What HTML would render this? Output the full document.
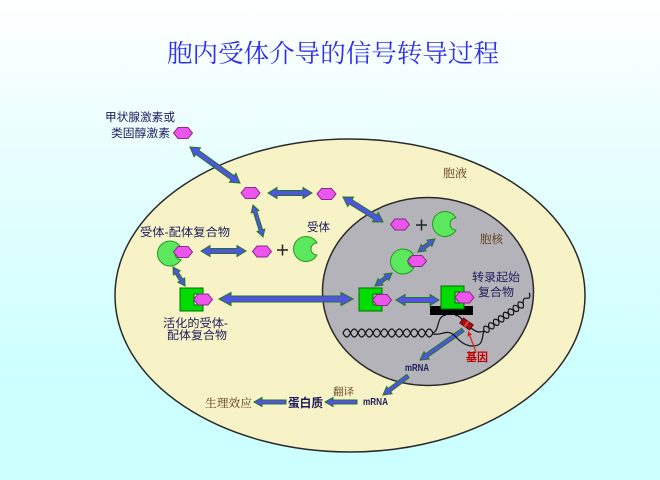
<!DOCTYPE html>
<html><head><meta charset="utf-8"><style>
html,body{margin:0;padding:0;}
body{width:660px;height:480px;overflow:hidden;background:linear-gradient(to bottom,#ffffff 0%,#e6fefe 35%,#ccffff 80%,#ccffff 100%);}
svg{display:block;}
.nv{font-family:"Liberation Sans","Noto Sans CJK SC",sans-serif;fill:#1c1c5c;font-size:11.5px;}
.br{font-family:"Liberation Serif","Noto Serif CJK SC",serif;fill:#5a3410;font-size:11.5px;}
.ar{fill:#5252e4;stroke:#1f7a1f;stroke-width:1;}
.hx{fill:#ee55ee;stroke:#8a2a8a;stroke-width:1;}
.pm{fill:#5ce85c;stroke:#229a22;stroke-width:1;}
.sq{fill:#00dd00;stroke:#006f00;stroke-width:1;}
.dna{fill:none;stroke:#111;stroke-width:1.2;}
</style></head><body>
<svg width="660" height="480" viewBox="0 0 660 480" xmlns="http://www.w3.org/2000/svg">
<!-- title -->
<text x="167" y="62" textLength="332" lengthAdjust="spacingAndGlyphs" style="font-family:'Liberation Serif','Noto Serif CJK SC',serif;font-size:25px;fill:#2f2ff0;">胞内受体介导的信号转导过程</text>

<!-- cell -->
<ellipse cx="350" cy="295.5" rx="235" ry="156.5" fill="#f7f3c7" stroke="#2a2a2a" stroke-width="1.5"/>
<ellipse cx="428" cy="291.5" rx="105.5" ry="94" fill="#b3b3b9" stroke="#2a2a2a" stroke-width="1.5"/>

<!-- labels -->
<text class="nv" x="105" y="121" textLength="70" lengthAdjust="spacingAndGlyphs">甲状腺激素或</text>
<text class="nv" x="111" y="137" textLength="59" lengthAdjust="spacingAndGlyphs">类固醇激素</text>
<text class="nv" x="140" y="236" textLength="90" lengthAdjust="spacingAndGlyphs">受体-配体复合物</text>
<text class="nv" x="307" y="231" textLength="23" lengthAdjust="spacingAndGlyphs">受体</text>
<text class="nv" x="163" y="327" textLength="65" lengthAdjust="spacingAndGlyphs">活化的受体-</text>
<text class="nv" x="167" y="339" textLength="60" lengthAdjust="spacingAndGlyphs">配体复合物</text>
<text class="br" x="443" y="177" textLength="24" lengthAdjust="spacingAndGlyphs">胞液</text>
<text class="br" x="480" y="243" textLength="23" lengthAdjust="spacingAndGlyphs">胞核</text>
<text class="nv" x="472" y="281" textLength="48" lengthAdjust="spacingAndGlyphs">转录起始</text>
<text class="nv" x="478" y="296" textLength="36" lengthAdjust="spacingAndGlyphs">复合物</text>
<text x="466" y="361" textLength="22" lengthAdjust="spacingAndGlyphs" style="font-family:'Liberation Sans','Noto Sans CJK SC',sans-serif;font-size:11.5px;fill:#c00000;font-weight:bold;">基因</text>
<text x="405" y="371" textLength="24" lengthAdjust="spacingAndGlyphs" style="font-family:'Liberation Sans',sans-serif;font-size:10px;fill:#1c1c5c;font-weight:bold;">mRNA</text>
<text x="363" y="405" textLength="25" lengthAdjust="spacingAndGlyphs" style="font-family:'Liberation Sans',sans-serif;font-size:10px;fill:#1c1c5c;font-weight:bold;">mRNA</text>
<text class="br" x="333" y="395" textLength="21" lengthAdjust="spacingAndGlyphs" style="font-size:10.5px;">翻译</text>
<text class="nv" x="288" y="407" textLength="35" lengthAdjust="spacingAndGlyphs" style="font-weight:bold;font-size:12px;">蛋白质</text>
<text class="br" x="205" y="407" textLength="47" lengthAdjust="spacingAndGlyphs">生理效应</text>

<!-- plus signs -->
<path d="M277,250 h11 M282.5,244.5 v11 M416,225 h11 M421.5,219.5 v11" stroke="#222" stroke-width="1.5"/>

<!-- arrows -->
<polygon class="ar" transform="translate(190,147) rotate(35.8)" points="0,0 9,-5.5 9,-2.5 52.6,-2.5 52.6,-5.5 61.6,0 52.6,5.5 52.6,2.5 9,2.5 9,5.5"/>
<polygon class="ar" transform="translate(268,193)" points="0,0 9,-5.5 9,-2.5 35,-2.5 35,-5.5 44,0 35,5.5 35,2.5 9,2.5 9,5.5"/>
<polygon class="ar" transform="translate(343,197) rotate(32)" points="0,0 9,-5.5 9,-2.5 38.2,-2.5 38.2,-5.5 47.2,0 38.2,5.5 38.2,2.5 9,2.5 9,5.5"/>
<polygon class="ar" transform="translate(253,205) rotate(72.6)" points="0,0 7,-4 7,-1.8 26.5,-1.8 26.5,-4 33.5,0 26.5,4 26.5,1.8 7,1.8 7,4"/>
<polygon class="ar" transform="translate(201,251)" points="0,0 9,-5.5 9,-2.5 36,-2.5 36,-5.5 45,0 36,5.5 36,2.5 9,2.5 9,5.5"/>
<polygon class="ar" transform="translate(173,267) rotate(57.7)" points="0,0 7,-4 7,-1.8 15.5,-1.8 15.5,-4 22.5,0 15.5,4 15.5,1.8 7,1.8 7,4"/>
<polygon class="ar" transform="translate(219,299)" points="0,0 12,-6.5 12,-3 122,-3 122,-6.5 134,0 122,6.5 122,3 12,3 12,6.5"/>
<polygon class="ar" transform="translate(418,252) rotate(-37.4)" points="0,0 7,-4 7,-1.8 14.4,-1.8 14.4,-4 21.4,0 14.4,4 14.4,1.8 7,1.8 7,4"/>
<polygon class="ar" transform="translate(375,286) rotate(-37.4)" points="0,0 7,-4 7,-1.8 14.4,-1.8 14.4,-4 21.4,0 14.4,4 14.4,1.8 7,1.8 7,4"/>
<polygon class="ar" transform="translate(396,300)" points="0,0 9,-5.5 9,-2.5 34,-2.5 34,-5.5 43,0 34,5.5 34,2.5 9,2.5 9,5.5"/>
<polygon class="ar" transform="translate(463,330) rotate(145.1)" points="0,-2 44.4,-2 44.4,-4.5 52.4,0 44.4,4.5 44.4,2 0,2"/>
<polygon class="ar" transform="translate(408,376) rotate(142.8)" points="0,-2 23.4,-2 23.4,-4.5 31.4,0 23.4,4.5 23.4,2 0,2"/>
<polygon class="ar" transform="translate(357,402) rotate(180)" points="0,-2 24,-2 24,-4.5 32,0 24,4.5 24,2 0,2"/>
<polygon class="ar" transform="translate(286,402) rotate(180)" points="0,-2 24,-2 24,-4.5 32,0 24,4.5 24,2 0,2"/>

<!-- hexagons (free) -->
<polygon class="hx" transform="translate(183,133)" points="-9.5,0 -5,-5.5 5,-5.5 9.5,0 5,5.5 -5,5.5"/>
<polygon class="hx" transform="translate(250.5,193)" points="-9.5,0 -5,-5.5 5,-5.5 9.5,0 5,5.5 -5,5.5"/>
<polygon class="hx" transform="translate(326.5,194)" points="-9.5,0 -5,-5.5 5,-5.5 9.5,0 5,5.5 -5,5.5"/>
<polygon class="hx" transform="translate(262,251.5)" points="-9.5,0 -5,-5.5 5,-5.5 9.5,0 5,5.5 -5,5.5"/>
<polygon class="hx" transform="translate(400,224.5)" points="-9.5,0 -5,-5.5 5,-5.5 9.5,0 5,5.5 -5,5.5"/>

<!-- receptors -->
<path class="pm" transform="translate(306,249)" d="M10.97,-6 A12.5,12.5 0 1 0 10.97,6 A6,6 0 1 1 10.97,-6 Z"/>
<path class="pm" transform="translate(445,224)" d="M10.97,-6 A12.5,12.5 0 1 0 10.97,6 A6,6 0 1 1 10.97,-6 Z"/>
<!-- complexes -->
<path class="pm" transform="translate(170,253.5)" d="M10.97,-6 A12.5,12.5 0 1 0 10.97,6 A6,6 0 1 1 10.97,-6 Z"/>
<polygon class="hx" transform="translate(183,252)" points="-9.5,0 -5,-5.5 5,-5.5 9.5,0 5,5.5 -5,5.5"/>
<path class="pm" transform="translate(403,261.5)" d="M10.97,-6 A12.5,12.5 0 1 0 10.97,6 A6,6 0 1 1 10.97,-6 Z"/>
<polygon class="hx" transform="translate(417,261)" points="-9.5,0 -5,-5.5 5,-5.5 9.5,0 5,5.5 -5,5.5"/>

<!-- black bar -->
<rect x="430" y="306" width="43" height="9" fill="#000"/>

<!-- squares -->
<polygon class="sq" transform="translate(180,288)" points="0,0 23,0 23,6 14,6 14,17 23,17 23,23 0,23"/>
<polygon class="hx" transform="translate(203,299.5)" points="-9.5,0 -5,-5.5 5,-5.5 9.5,0 5,5.5 -5,5.5"/>
<polygon class="sq" transform="translate(359,288)" points="0,0 23,0 23,6 14,6 14,17 23,17 23,23 0,23"/>
<polygon class="hx" transform="translate(382,300)" points="-9.5,0 -5,-5.5 5,-5.5 9.5,0 5,5.5 -5,5.5"/>
<polygon class="sq" transform="translate(441,286)" points="0,0 23,0 23,6 14,6 14,17 23,17 23,23 0,23"/>
<polygon class="hx" transform="translate(464.5,297.5)" points="-9.5,0 -5,-5.5 5,-5.5 9.5,0 5,5.5 -5,5.5"/>

<!-- DNA -->
<path class="dna" d="M343,333 q3.75,-8 7.5,0 t7.5,0 t7.5,0 t7.5,0 t7.5,0 t7.5,0 t7.5,0 t7.5,0 t7.5,0 t7.5,0 t7.5,0 t7.5,0"/>
<path class="dna" d="M343,333 q3.75,8 7.5,0 t7.5,0 t7.5,0 t7.5,0 t7.5,0 t7.5,0 t7.5,0 t7.5,0 t7.5,0 t7.5,0 t7.5,0 t7.5,0"/>
<g transform="translate(484,331) rotate(-35.3)">
<path class="dna" d="M0,0 q3,-7 6,0 t6,0 t6,0 t6,0 t6,0 t6,0 t6,0 t6,0"/>
<path class="dna" d="M0,0 q3,7 6,0 t6,0 t6,0 t6,0 t6,0 t6,0 t6,0 t6,0"/>
<path class="dna" d="M48,0 q3,-5 6,-2 t5,-3"/>
</g>
<path class="dna" d="M433,333 C440,330 436,316 446,315"/>
<path class="dna" d="M455,315 C460,316 461,318 463,321"/>
<path class="dna" d="M433,334 C442,336 447,328 455,336 C462,344 470,348 478,345 C483,343 482,336 484,331"/>
<path class="dna" d="M471,328 C476,332 479,333 484,331"/>

<!-- gene -->
<rect x="-6" y="-3.2" width="12" height="6.4" transform="translate(466.5,324) rotate(35)" fill="#a80c0c" stroke="#5a0000" stroke-width="0.8"/>
<rect x="-1" y="-3.2" width="2" height="6.4" transform="translate(466.5,324) rotate(35)" fill="#d44"/>

<!-- red arrow -->
<line x1="476" y1="352" x2="469.5" y2="335" stroke="#dd2020" stroke-width="1.2"/>
<polygon points="468,331 472.1,334.8 467.5,336.6" fill="#dd2020"/>
</svg>
</body></html>
